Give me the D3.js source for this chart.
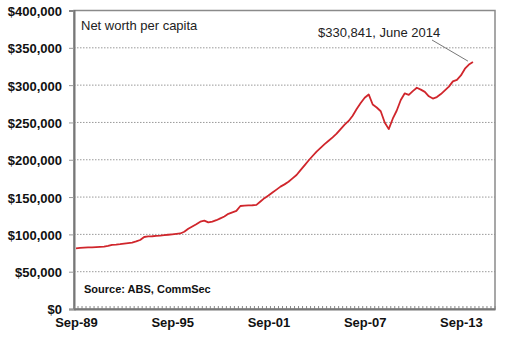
<!DOCTYPE html>
<html>
<head>
<meta charset="utf-8">
<script src="https://cdn.jsdelivr.net/npm/d3@7"></script>
<style>
  body { margin: 0; background: #fff; }
  svg { display: block; font-family: Arial, "Liberation Sans", sans-serif; }
</style>
</head>
<body>
<svg id="chart"></svg>
<script>
// net worth per capita, quarterly from Sep-89 to Jun-14 (A$)
var netWorth = [
  81300, 81800, 82200, 82500, 82700, 83000, 83300, 83500, 84500, 86000,
  86300, 86800, 87500, 88200, 89000, 90500, 92500, 96500, 97200, 97500,
  98000, 98400, 99000, 99500, 100000, 100600, 101200, 103500, 107500, 110500,
  113500, 117000, 118500, 116000, 117000, 119000, 121500, 124000, 127500, 129500,
  131500, 138000, 138500, 138800, 139000, 139500, 144000, 148500, 152000, 156000,
  160000, 164000, 167000, 170500, 175000, 179500, 186000, 192500, 199000, 205000,
  211000, 216000, 221000, 225500, 230000, 235000, 241000, 247000, 252000, 259000,
  268000, 276000, 283000, 287500, 274000, 270000, 265000, 250000, 241000, 255000,
  266000, 280000, 289000, 287000, 292000, 296500, 294000, 291000, 285000, 282000,
  284000, 288000, 293000, 298000, 305000, 307000, 313000, 322000, 327500, 330841
];

// quarters shown on the category axis (the axis runs a little past the data)
var axisQuarters = 105;
var xTickIndex = [0, 24, 48, 72, 96];
var xTickLabels = ["Sep-89", "Sep-95", "Sep-01", "Sep-07", "Sep-13"];
var yTicks = [0, 50000, 100000, 150000, 200000, 250000, 300000, 350000, 400000];

var width = 511, height = 345;
var margin = { top: 10.5, right: 16, bottom: 36, left: 74 };

var svg = d3.select("#chart")
    .attr("width", width)
    .attr("height", height);

var x = d3.scaleLinear()
    .domain([-0.5, axisQuarters - 0.5])
    .range([margin.left, width - margin.right]);

var y = d3.scaleLinear()
    .domain([0, 400000])
    .range([height - margin.bottom, margin.top]);

// dotted gridlines
svg.append("g")
    .selectAll("line")
    .data(yTicks.slice(1, -1))
    .enter()
    .append("line")
    .attr("x1", margin.left)
    .attr("x2", width - margin.right)
    .attr("y1", function(d){ return y(d); })
    .attr("y2", function(d){ return y(d); })
    .attr("stroke", "#9a9a9a")
    .attr("stroke-width", 1)
    .attr("stroke-dasharray", "1.5,1.5");

// plot frame
svg.append("rect")
    .attr("x", margin.left)
    .attr("y", margin.top)
    .attr("width", width - margin.right - margin.left)
    .attr("height", height - margin.bottom - margin.top)
    .attr("fill", "none")
    .attr("stroke", "#8a8a8a")
    .attr("stroke-width", 1.5);

// y axis
var yAxis = d3.axisLeft(y)
    .tickValues(yTicks)
    .tickSize(5)
    .tickPadding(7)
    .tickFormat(function(d){ return "$" + d3.format(",")(d); });

var gy = svg.append("g")
    .attr("transform", "translate(" + margin.left + ",0)")
    .call(yAxis);
gy.select(".domain").attr("stroke", "#777").attr("stroke-width", 2);
gy.selectAll(".tick line").attr("stroke", "#999");
gy.selectAll(".tick text")
    .attr("dy", "0.38em")
    .style("font-size", "13px")
    .style("font-weight", "bold")
    .attr("fill", "#111");

// quarterly minor ticks along the bottom, pointing into the plot
svg.append("g")
    .selectAll("line")
    .data(d3.range(axisQuarters + 1))
    .enter()
    .append("line")
    .attr("x1", function(i){ return x(i - 0.5); })
    .attr("x2", function(i){ return x(i - 0.5); })
    .attr("y1", y(0))
    .attr("y2", y(0) - 3)
    .attr("stroke", "#888")
    .attr("stroke-width", 1);

// x axis labels
var xAxis = d3.axisBottom(x)
    .tickValues(xTickIndex)
    .tickSize(0)
    .tickPadding(9)
    .tickFormat(function(d, i){ return xTickLabels[i]; });

var gx = svg.append("g")
    .attr("transform", "translate(0," + y(0) + ")")
    .call(xAxis);
gx.select(".domain").attr("stroke", "#777").attr("stroke-width", 2);
gx.selectAll(".tick text")
    .attr("dy", "0.72em")
    .style("font-size", "13px")
    .style("font-weight", "bold")
    .attr("fill", "#111");

// net worth line
var line = d3.line()
    .x(function(d, i){ return x(i); })
    .y(function(d){ return y(d); });

svg.append("path")
    .datum(netWorth)
    .attr("d", line)
    .attr("fill", "none")
    .attr("stroke", "#d0262c")
    .attr("stroke-width", 1.8)
    .attr("stroke-linejoin", "round");

// titles and note
svg.append("text")
    .attr("x", 81)
    .attr("y", 29.5)
    .style("font-size", "13px")
    .attr("fill", "#222")
    .text("Net worth per capita");

svg.append("text")
    .attr("x", 84)
    .attr("y", 293)
    .style("font-size", "11px")
    .style("font-weight", "bold")
    .attr("fill", "#111")
    .text("Source: ABS, CommSec");

var last = netWorth.length - 1;

svg.append("line")
    .attr("x1", 432)
    .attr("y1", 40)
    .attr("x2", x(last) - 5)
    .attr("y2", y(netWorth[last]) - 1)
    .attr("stroke", "#777")
    .attr("stroke-width", 1);

svg.append("text")
    .attr("x", 318)
    .attr("y", 36.5)
    .style("font-size", "13px")
    .attr("fill", "#222")
    .text("$" + d3.format(",")(netWorth[last]) + ", June 2014");
</script>
</body>
</html>
